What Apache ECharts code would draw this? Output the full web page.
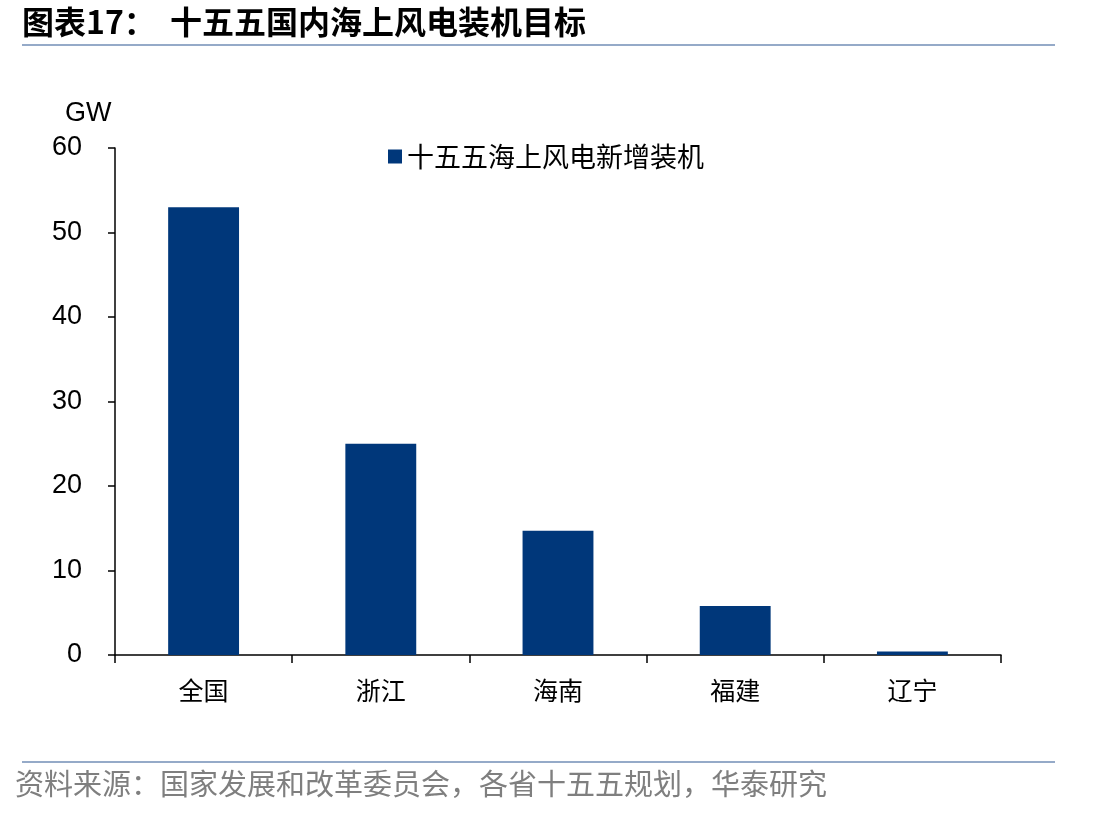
<!DOCTYPE html>
<html>
<head>
<meta charset="utf-8">
<script src="https://cdn.jsdelivr.net/npm/echarts@6/dist/echarts.min.js"></script>
<style>
  html, body { margin: 0; padding: 0; background: #fff; }
  #chart { width: 1112px; height: 816px; }
</style>
</head>
<body>
<div id="chart"></div>
<script>
// 数据
const regions = ['全国', '浙江', '海南', '福建', '辽宁']
const newCapacity = [53, 25, 14.7, 5.8, 0.4]
const seriesName = '十五五海上风电新增装机'
const yTicks = [0, 10, 20, 30, 40, 50, 60]

const cjk = '"Noto Sans CJK SC", "Noto Sans", sans-serif'
const latin = '"Liberation Sans", Arial, sans-serif'
const navy = '#00377a'

const chart = echarts.init(document.getElementById('chart'))

chart.setOption({
  animation: false,
  backgroundColor: '#fff',
  grid: { left: 115, right: 111, top: 148, bottom: 161, containLabel: false },
  legend: {
    data: [seriesName],
    left: 383,
    top: 138,
    icon: 'rect',
    itemWidth: 14,
    itemHeight: 14,
    itemGap: 8,
    textStyle: { fontFamily: cjk, fontSize: 27, color: '#000' },
  },
  xAxis: {
    type: 'category',
    data: regions,
    axisLine: { lineStyle: { color: '#000', width: 1.5 } },
    axisTick: { show: true, length: 8, lineStyle: { color: '#000', width: 1.5 } },
    axisLabel: { fontFamily: cjk, fontSize: 25, color: '#000', margin: 23 },
  },
  yAxis: {
    type: 'value',
    min: yTicks[0],
    max: yTicks[yTicks.length - 1],
    interval: 10,
    splitLine: { show: false },
    axisLine: { show: true, lineStyle: { color: '#000', width: 1.5 } },
    axisTick: { show: true, length: 7, lineStyle: { color: '#000', width: 1.5 } },
    axisLabel: { fontFamily: latin, fontSize: 27, color: '#000', margin: 33 },
  },
  series: [{
    name: seriesName,
    type: 'bar',
    data: newCapacity,
    barWidth: '40%',
    itemStyle: { color: navy },
  }],
  graphic: [
    // 标题
    { type: 'text', left: 22, top: 6, style: { text: '图表17：', font: `bold 32px ${cjk}`, fill: '#000' } },
    { type: 'text', left: 170, top: 6, style: { text: '十五五国内海上风电装机目标', font: `bold 32px ${cjk}`, fill: '#000' } },
    { type: 'rect', shape: { x: 22, y: 44, width: 1033, height: 2 }, style: { fill: '#95aac8' } },
    // 单位
    { type: 'text', left: 65, top: 100, style: { text: 'GW', font: `27px ${latin}`, fill: '#000' } },
    // 来源
    { type: 'rect', shape: { x: 22, y: 761, width: 1033, height: 2 }, style: { fill: '#95aac8' } },
    { type: 'text', left: 15, top: 769, style: { text: '资料来源：国家发展和改革委员会，各省十五五规划，华泰研究', font: `29px ${cjk}`, fill: '#7f7f7f' } },
  ],
})
</script>
</body>
</html>
